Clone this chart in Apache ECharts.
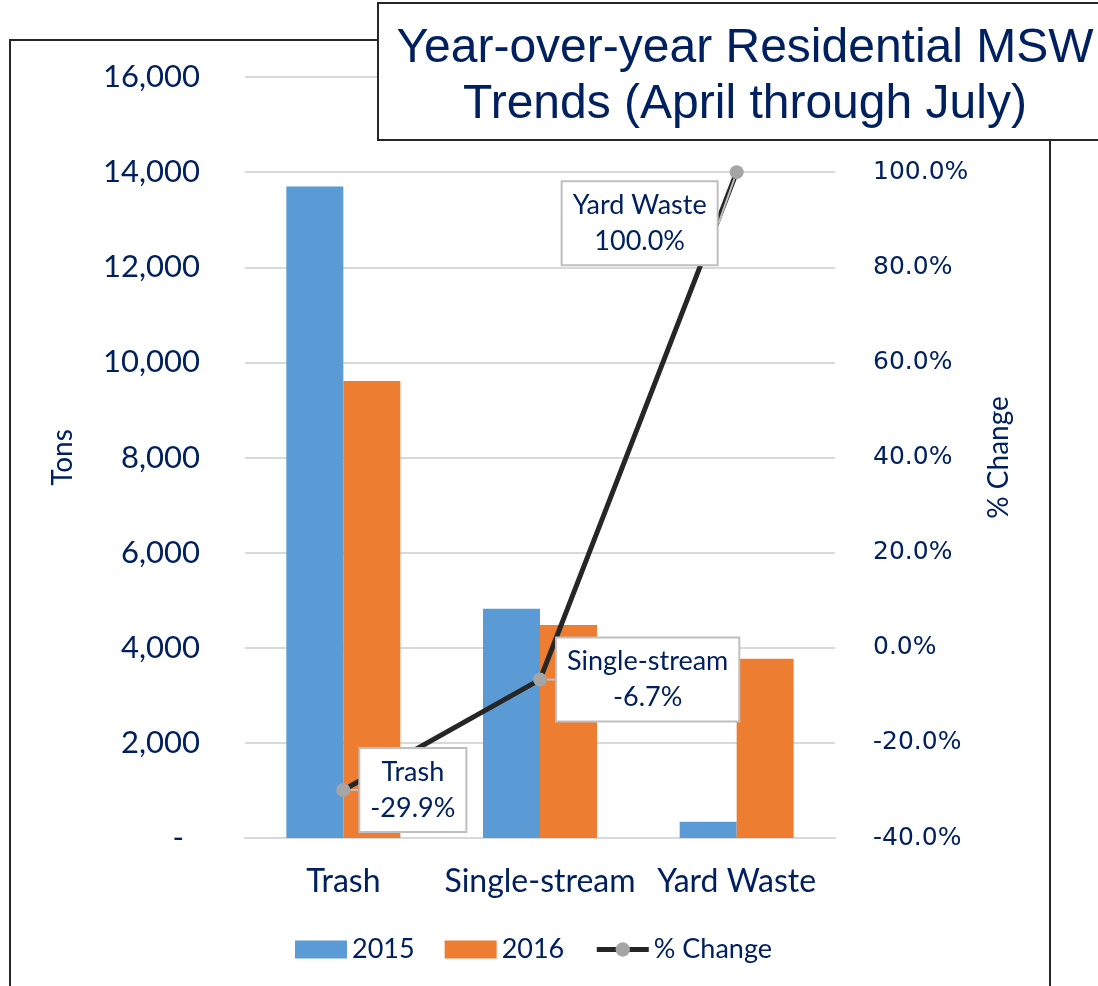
<!DOCTYPE html>
<html>
<head>
<meta charset="utf-8">
<script src="https://cdn.jsdelivr.net/npm/echarts@6/dist/echarts.min.js"></script>
<style>
  html, body { margin: 0; padding: 0; background: #fff; }
  #main { width: 1098px; height: 986px; }
</style>
</head>
<body>
<div id="main"></div>
<script>
// data
const categories = ['Trash', 'Single-stream', 'Yard Waste']
const tons2015 = [13700, 4820, 340]
const tons2016 = [9610, 4480, 3770]
const pctChange = [-29.9, -6.7, 100.0]
const titleLines = ['Year-over-year Residential MSW', 'Trends (April through July)']

const navy = '#002060'
const txtFont = 'Lato'

const chart = echarts.init(document.getElementById('main'))

const option = {
  animation: false,
  graphic: [
    // outer chart border
    {
      type: 'rect', z: 0,
      shape: { x: 10, y: 40, width: 1040, height: 980 },
      style: { fill: 'none', stroke: '#262626', lineWidth: 2 }
    },
    // title box laid over the border
    {
      type: 'rect', z: 50,
      shape: { x: 378, y: 3, width: 740, height: 137 },
      style: { fill: '#fff', stroke: '#262626', lineWidth: 2 }
    },
    {
      type: 'text', z: 51,
      x: 745, y: 77,
      style: {
        text: titleLines.join('\n'),
        fill: navy,
        font: '48px "Liberation Sans", Arial, sans-serif',
        lineHeight: 56,
        align: 'center',
        verticalAlign: 'middle'
      }
    }
  ],
  grid: { left: 245, right: 263, top: 77, bottom: 148 },
  legend: {
    left: 290,
    top: 931,
    itemWidth: 52,
    itemHeight: 18,
    itemGap: 30,
    textStyle: { color: navy, fontSize: 27, fontFamily: txtFont },
    data: [
      { name: '2015', icon: 'rect' },
      { name: '2016', icon: 'rect' },
      { name: '% Change', lineStyle: { width: 5, color: '#262626' } }
    ]
  },
  xAxis: {
    type: 'category',
    data: categories,
    axisLine: { lineStyle: { color: '#d9d9d9', width: 2 } },
    axisTick: { show: false },
    axisLabel: { color: navy, fontSize: 32, fontFamily: txtFont, margin: 28, interval: 0 }
  },
  yAxis: [
    {
      type: 'value',
      min: 0, max: 16000, interval: 2000,
      name: 'Tons',
      nameLocation: 'middle',
      nameGap: 168,
      nameRotate: 90,
      nameTextStyle: { color: navy, fontSize: 28, fontFamily: txtFont },
      axisLine: { show: false },
      axisTick: { show: false },
      splitLine: { lineStyle: { color: '#d9d9d9', width: 2 } },
      axisLabel: {
        color: navy, fontSize: 31, fontFamily: txtFont, margin: 45,
        formatter: v => v === 0 ? '-  ' : v.toLocaleString('en-US')
      }
    },
    {
      type: 'value',
      min: -40, max: 120, interval: 20,
      name: '% Change',
      nameLocation: 'middle',
      nameGap: 150,
      nameRotate: 90,
      nameTextStyle: { color: navy, fontSize: 28, fontFamily: txtFont },
      axisLine: { show: false },
      axisTick: { show: false },
      splitLine: { show: false },
      axisLabel: {
        color: navy, fontSize: 25, fontFamily: '"DejaVu Sans"', margin: 38,
        formatter: v => v >= 120 ? '' : v.toFixed(1) + '%'
      }
    }
  ],
  series: [
    {
      name: '2015',
      type: 'bar',
      data: tons2015,
      barWidth: 57,
      barGap: '0%',
      itemStyle: { color: '#5b9bd5' }
    },
    {
      name: '2016',
      type: 'bar',
      data: tons2016,
      barWidth: 57,
      itemStyle: { color: '#ed7d31' }
    },
    {
      name: '% Change',
      type: 'line',
      yAxisIndex: 1,
      z: 10,
      data: pctChange,
      symbol: 'circle',
      symbolSize: 14,
      lineStyle: { color: '#262626', width: 5 },
      itemStyle: { color: '#a5a5a5' },
      label: {
        show: true,
        position: 'right',
        distance: 16,
        formatter: p => categories[p.dataIndex] + '\n' + p.value.toFixed(1) + '%',
        color: navy,
        fontSize: 27,
        fontFamily: txtFont,
        lineHeight: 36,
        align: 'center',
        backgroundColor: '#fff',
        borderColor: '#bfbfbf',
        borderWidth: 2,
        padding: [5, 10, 5, 10]
      },
      labelLine: { show: true, lineStyle: { color: '#bfbfbf', width: 2 } },
      labelLayout: function (p) {
        // place the callout boxes beside their points as in the source
        const cx = p.rect.x + p.rect.width / 2
        const cy = p.rect.y + p.rect.height / 2
        const lr = p.labelRect
        if (p.dataIndex === 2) {
          return {
            dx: (cx - 18) - (lr.x + lr.width),
            dy: (cy + 51) - (lr.y + lr.height / 2)
          }
        }
        return {
          dx: (cx + 15) - lr.x,
          dy: cy - (lr.y + lr.height / 2)
        }
      }
    }
  ]
}

chart.setOption(option)
</script>
</body>
</html>
